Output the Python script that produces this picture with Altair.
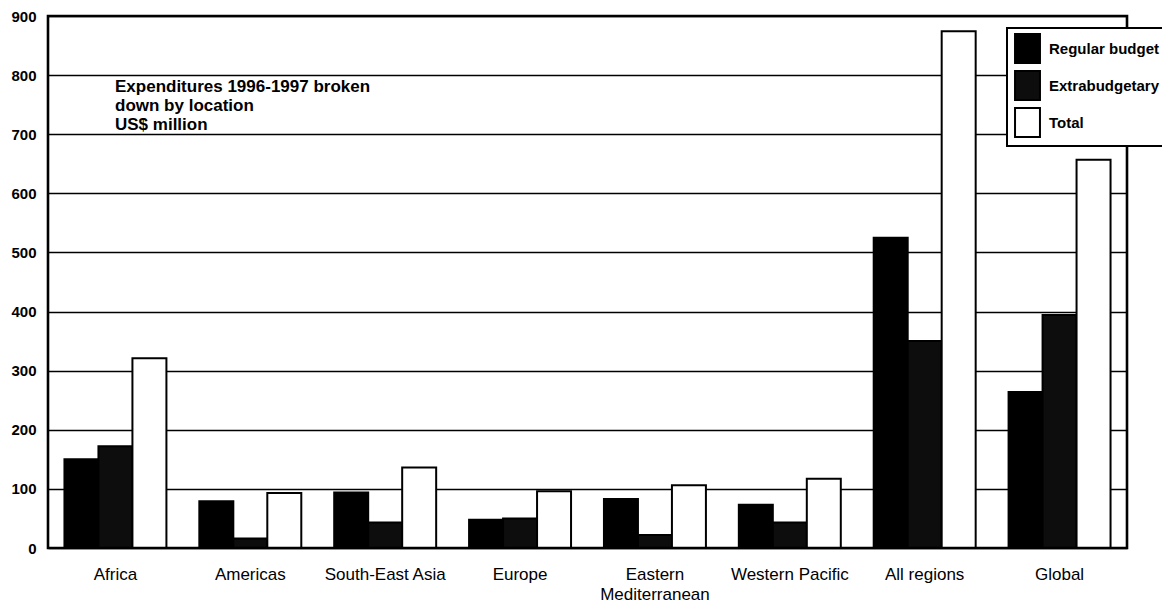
import altair as alt
import pandas as pd

# ---- data ----
regions = ["Africa", "Americas", "South-East Asia", "Europe",
           "Eastern Mediterranean", "Western Pacific", "All regions", "Global"]
series_names = ["Regular budget", "Extrabudgetary", "Total"]
regular_budget = [150, 79, 94, 48, 83, 73, 525, 264]
extrabudgetary = [172, 16, 43, 50, 22, 43, 350, 394]
total = [321, 93, 136, 96, 106, 117, 874, 657]
y_ticks = [0, 100, 200, 300, 400, 500, 600, 700, 800, 900]
note_lines = ["Expenditures 1996-1997 broken", "down by location", "US$ million"]

rows = []
for i, r in enumerate(regions):
    rows.append({"region": r, "series": series_names[0], "value": regular_budget[i]})
    rows.append({"region": r, "series": series_names[1], "value": extrabudgetary[i]})
    rows.append({"region": r, "series": series_names[2], "value": total[i]})
df = pd.DataFrame(rows)

FONT = "Liberation Sans"
W, H = 1079, 532

bars = alt.Chart(df).mark_bar(stroke="black", strokeWidth=2, opacity=1).encode(
    x=alt.X("region:N", sort=regions, title=None,
            scale=alt.Scale(paddingInner=0.244, paddingOuter=0.122),
            axis=alt.Axis(labelAngle=0, ticks=False, domain=False, grid=False,
                          labelPadding=18, labelFontSize=17, labelFont=FONT,
                          labelColor="black", labelLineHeight=20,
                          labelExpr="datum.label == 'Eastern Mediterranean' ? ['Eastern', 'Mediterranean'] : datum.label")),
    xOffset=alt.XOffset("series:N", sort=series_names,
                        scale=alt.Scale(paddingInner=0, paddingOuter=0)),
    y=alt.Y("value:Q", title=None,
            scale=alt.Scale(domain=[0, 900], nice=False),
            axis=alt.Axis(values=y_ticks, ticks=False, domain=False, grid=True,
                          gridColor="black", gridWidth=1.6, gridOpacity=1,
                          labelPadding=12, labelFontSize=15, labelFontWeight="bold",
                          labelFont=FONT, labelColor="black")),
    fill=alt.Fill("series:N", sort=series_names,
                  scale=alt.Scale(domain=series_names, range=["#000000", "#0d0d0d", "#ffffff"]),
                  legend=alt.Legend(title=None, orient="none", legendX=959, legendY=12,
                                    fillColor="white", strokeColor="black",
                                    padding=5, rowPadding=0, labelFontSize=15,
                                    labelFontWeight="bold", labelFont=FONT, labelColor="black",
                                    labelOffset=6, labelLimit=200,
                                    symbolType="M-0.86,-1H0.86V1H-0.86Z",
                                    symbolSize=841, symbolStrokeColor="black",
                                    symbolStrokeWidth=2, symbolOpacity=1)),
)

frame = alt.Chart(pd.DataFrame({"k": [0]})).mark_rect(
    fill=None, filled=False, stroke="black", strokeWidth=2.6
).encode(x=alt.value(0), x2=alt.value(W), y=alt.value(0), y2=alt.value(H))

note = alt.Chart(pd.DataFrame({"k": [0]})).mark_text(
    text=note_lines, align="left", baseline="alphabetic", font=FONT,
    fontSize=17, fontWeight="bold", lineHeight=19, color="black"
).encode(x=alt.value(67), y=alt.value(76))

chart = alt.layer(bars, frame, note).properties(
    width=W, height=H,
    autosize=alt.AutoSizeParams(type="none"),
    padding={"left": 40, "top": 8, "right": 35, "bottom": 56},
    background="white",
).configure_view(stroke=None).configure(font=FONT).configure_legend(strokeWidth=2)

chart.save("out.html", embed_options={"renderer": "svg", "actions": False})
